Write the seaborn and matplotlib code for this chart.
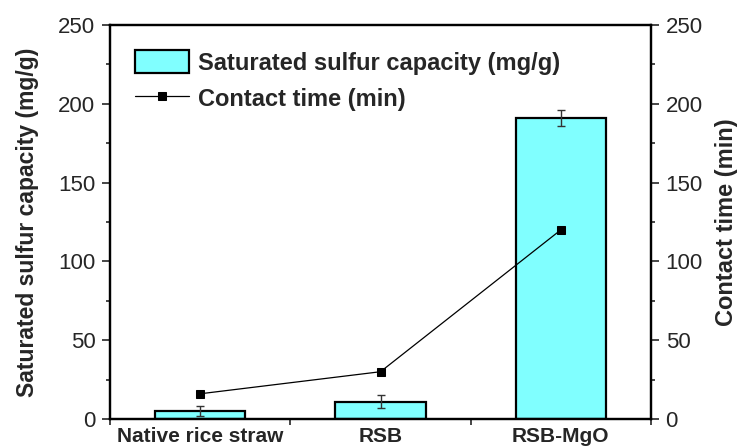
import matplotlib
matplotlib.use("Agg")
import matplotlib.pyplot as plt
import seaborn as sns
import pandas as pd
from matplotlib.ticker import MultipleLocator, FixedLocator

sns.set_theme(style="ticks")
plt.rcParams['font.family'] = ['Liberation Sans', 'DejaVu Sans']

# Data
materials = ["Native rice straw", "RSB", "RSB-MgO"]
sulfur_capacity = [5, 11, 191]        # mg/g
capacity_err = [3.3, 4, 5]            # mg/g
contact_time = [16, 30, 120]          # min

df = pd.DataFrame({"material": materials,
                   "capacity": sulfur_capacity,
                   "time": contact_time})

fig = plt.figure(figsize=(7.4, 4.48), dpi=100)
ax = fig.add_axes([110/740, 1 - 419/448, (651 - 110)/740, (419 - 25)/448])

sns.barplot(data=df, x="material", y="capacity", order=materials,
            color="#80FFFF", saturation=1, width=0.5,
            edgecolor="black", linewidth=1.6, errorbar=None, ax=ax)
ax.errorbar(range(len(materials)), sulfur_capacity, yerr=capacity_err,
            fmt="none", ecolor="#333333", elinewidth=1, capsize=3, capthick=1)

ax2 = ax.twinx()
sns.lineplot(data=df, x="material", y="time", sort=False, ax=ax2,
             color="black", linewidth=0.9, marker="s", markersize=6,
             markeredgecolor="black")

for a in (ax, ax2):
    a.set_ylim(0, 250)
    a.yaxis.set_major_locator(MultipleLocator(50))
    a.yaxis.set_minor_locator(MultipleLocator(25))
    a.tick_params(axis="y", which="major", length=6, width=1.2,
                  labelsize=16, pad=4.5)
    a.tick_params(axis="y", which="minor", length=3, width=1.2)
    for s in a.spines.values():
        s.set_linewidth(1.6)
        s.set_color("black")
    a.set_xlim(-0.5, 2.5)

ax.set_xticks(range(len(materials)))
ax.set_xticklabels(materials, fontweight="bold", fontsize=15)
ax.xaxis.set_minor_locator(FixedLocator([-0.5, 0.5, 1.5, 2.5]))
ax.tick_params(axis="x", which="major", length=0, pad=6)
ax.tick_params(axis="x", which="minor", length=4, width=1.2)

ax.set_xlabel("")
ax.set_ylabel("Saturated sulfur capacity (mg/g)", fontweight="bold",
              fontsize=16.5, labelpad=14)
ax2.set_ylabel("Contact time (min)", fontweight="bold", fontsize=17,
               labelpad=9)
ax2.set_xlabel("")

bar_handle = ax.patches[0]
line_handle = ax2.lines[0]
leg = ax.legend([bar_handle, line_handle],
                ["Saturated sulfur capacity (mg/g)", "Contact time (min)"],
                loc="upper left", bbox_to_anchor=(0.02, 0.972), frameon=False,
                prop={"weight": "bold", "size": 17},
                handlelength=2.3, handleheight=1.1, handletextpad=0.38,
                labelspacing=0.5, borderaxespad=0.2)

fig.savefig("out.png", dpi=100)
